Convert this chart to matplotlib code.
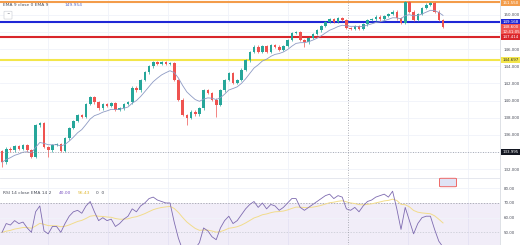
#!/usr/bin/env python3

import numpy as np
import pandas as pd
import matplotlib
matplotlib.use('Agg')
import matplotlib.pyplot as plt
import matplotlib.transforms as mtrans
from matplotlib.patches import FancyBboxPatch

# Candle closes, oldest first.
# Each candle opens at the previous close.
closes = [
    132.8, 134.4, 134.2, 134.7, 134.4, 134.8, 134.2, 133.4, 137.1, 137.4,
    134.6, 134.2, 134.8, 134.9, 134.1, 135.6, 136.8, 137.6, 138.3, 138.1,
    139.6, 140.4, 139.8, 139.1, 139.6, 139.4, 139.7, 138.9, 139.1, 139.6,
    139.8, 141.5, 141.2, 142.4, 143.3, 144.0, 144.5, 144.3, 144.5, 144.3,
    144.4, 142.4, 140.1, 138.3, 138.0, 138.7, 138.4, 139.1, 141.2, 140.9,
    140.1, 139.5, 141.2, 142.4, 143.2, 142.1, 142.4, 143.6, 144.7, 145.7,
    146.3, 145.7, 146.4, 145.7, 146.5, 146.3, 145.9, 146.4, 147.1, 147.9,
    148.0, 147.1, 146.8, 147.3, 147.8, 148.2, 148.7, 149.2, 149.5, 149.2,
    149.6, 149.4, 148.5, 148.4, 148.7, 148.4, 148.9, 149.4, 149.5, 149.8,
    149.5, 149.9, 150.1, 150.4, 149.6, 149.1, 151.5, 150.4, 149.4, 150.1,
    150.8, 151.2, 151.4, 150.4, 149.4, 148.6,
]
first_open = 134.1

# candles with a visibly longer lower wick
long_lows = {0: 132.2, 11: 133.4, 44: 137.2, 51: 138.1, 72: 146.3}

# RSI 14 as it is drawn in the lower pane
rsi_vals = [
    50, 56, 55, 58, 56, 57, 53, 50, 64, 68,
    51, 49, 54, 54, 50, 56, 61, 64, 65, 63,
    68, 71, 64, 58, 60, 58, 59, 54, 56, 59,
    61, 66, 64, 68, 70, 73, 74, 72, 71, 70,
    70, 57, 46, 38, 37, 40, 39, 43, 53, 51,
    47, 45, 53, 58, 61, 56, 58, 62, 66, 69,
    71, 67, 70, 66, 69, 68, 65, 67, 70, 73,
    73, 67, 65, 67, 69, 71, 73, 75, 76, 73,
    75, 74, 66, 65, 67, 64, 68, 71, 72, 74,
    75, 76, 74, 78, 66, 52, 67, 58, 49, 56,
    60, 61, 61, 52, 44, 40,
]

# horizontal levels drawn on the chart
level_orange = 151.55
level_blue = 149.168
level_red = 147.414
level_yellow = 144.697

price_ticks = [132, 134, 136, 138, 140, 142, 144, 146, 148, 150]
rsi_ticks = [50, 60, 70, 80]
countdown = '12:41:05'
crosshair_price = 133.995
crosshair_idx = 82.4
grid_idx = [10.95, 25.2, 39.5, 53.8, 68.1, 96.7, 111.0]

up_col = '#26a69a'
dn_col = '#ef5350'
grid_col = '#f0f3fa'
txt_col = '#4a4e5a'
lab_size = 2.9

n = len(closes)
idx = np.arange(n)
c = np.array(closes)
o = np.array([first_open] + closes[:-1])
hi = np.maximum(o, c) + 0.15
lo = np.minimum(o, c) - 0.15
for k, v in long_lows.items():
    lo[k] = v

ema9 = pd.Series(c).ewm(span=9, adjust=False).mean()
rsi = pd.Series(rsi_vals, dtype=float)
rsi_ma = rsi.ewm(span=14, adjust=False).mean()

fig = plt.figure(figsize=(5.2, 2.45), dpi=100)
right = 500 / 520
split = 67 / 245
ax = fig.add_axes([0, split, right, 1 - split])
ax_r = fig.add_axes([0, 0, right, split], sharex=ax)

xlim = (-0.48, 118.57)

# ---- price pane ----
for y in price_ticks:
    ax.axhline(y, color=grid_col, lw=0.6, zorder=0)
for x in grid_idx:
    ax.axvline(x, color=grid_col, lw=0.6, zorder=0)
    ax_r.axvline(x, color=grid_col, lw=0.6, zorder=0)

cols = np.where(c >= o, up_col, dn_col)
ax.vlines(idx, lo, hi, colors=cols, lw=0.5, zorder=3)
ax.bar(idx, np.maximum(np.abs(c - o), 0.06), bottom=np.minimum(o, c),
       width=0.62, color=cols, zorder=3, linewidth=0)
ax.plot(idx, ema9, color='#8e9bc4', lw=0.6, zorder=4)

ax.axhline(level_orange, color='#f39c4a', lw=1.5, zorder=2)
ax.axhline(level_blue, color='#1f27d6', lw=1.5, zorder=2)
ax.axhline(level_red, color='#d9262b', lw=1.5, zorder=2)
ax.axhline(level_yellow, color='#f3e64a', lw=1.5, zorder=2)

# crosshair
ax.axvline(crosshair_idx, color='#9598a1', lw=0.6, ls=(0, (1, 2)), zorder=5)
ax_r.axvline(crosshair_idx, color='#9598a1', lw=0.6, ls=(0, (1, 2)), zorder=5)
ax.axhline(crosshair_price, color='#9598a1', lw=0.6, ls=(0, (1, 2)), zorder=5)

ax.set_xlim(*xlim)
ax.set_ylim(130.96, 151.75)
ax.yaxis.tick_right()
ax.set_yticks(price_ticks)
ax.set_yticklabels(['{:.3f}'.format(t) for t in price_ticks])
ax.tick_params(axis='y', length=0, pad=2.5, labelsize=lab_size, labelcolor=txt_col)
ax.tick_params(axis='x', length=0, labelbottom=False)
for s in ['top', 'left', 'bottom']:
    ax.spines[s].set_visible(False)
ax.spines['right'].set_color('#d1d4dc')
ax.spines['right'].set_linewidth(0.5)

# price tags on the axis
tr = mtrans.blended_transform_factory(ax.transAxes, ax.transData)

def tag(axis, trans, y, text, bg, fg='white'):
    axis.text(1.005, y, text, transform=trans, fontsize=lab_size, color=fg,
              va='center', ha='left', zorder=10, clip_on=False,
              bbox=dict(boxstyle='square,pad=0.25', fc=bg, ec='none'))

tag(ax, tr, level_orange - 0.1, '{:.3f}'.format(level_orange), '#f39c4a')
tag(ax, tr, level_blue, '{:.3f}'.format(level_blue), '#1f27d6')
tag(ax, tr, c[-1], '{:.3f}'.format(c[-1]), dn_col)
tag(ax, tr, c[-1] - 0.6, countdown, dn_col)
tag(ax, tr, level_red, '{:.3f}'.format(level_red), '#d9262b')
tag(ax, tr, level_yellow, '{:.3f}'.format(level_yellow), '#f3e64a', '#333')
tag(ax, tr, crosshair_price, '{:.3f}'.format(crosshair_price), '#131722')

# legend line
ax.text(0.006, 0.972, 'EMA 9 close 0 EMA 9', transform=ax.transAxes,
        fontsize=3.2, color=txt_col, va='center')
ax.text(0.13, 0.972, '{:.3f}'.format(ema9.iloc[-1]), transform=ax.transAxes,
        fontsize=3.2, color='#5c6bc0', va='center')
ax.add_patch(FancyBboxPatch((0.01, 0.895), 0.012, 0.04,
                            boxstyle='round,pad=0.002', transform=ax.transAxes,
                            fc='white', ec='#c8cbd3', lw=0.4, zorder=6))
ax.text(0.016, 0.915, '^', transform=ax.transAxes, fontsize=3, ha='center',
        va='center', color=txt_col, zorder=7)

# events badge at the bottom of the price pane
fig.patches.append(FancyBboxPatch((441 / 520, 1 - 186 / 245), 14 / 520, 7 / 245,
                                  boxstyle='round,pad=0.003', transform=fig.transFigure,
                                  fc='#dfe3f5', ec='#ef5350', lw=0.6, zorder=8))

# ---- RSI pane ----
ax_r.axhspan(30, 70, color='#7e57c2', alpha=0.1, lw=0, zorder=0)
for y in [60, 80]:
    ax_r.axhline(y, color=grid_col, lw=0.6, zorder=0)
ax_r.axhline(70, color='#9598a1', lw=0.5, ls=(0, (2, 2)), zorder=1)
ax_r.axhline(50, color='#c5c8d1', lw=0.5, ls=(0, (2, 2)), zorder=1)
ax_r.plot(idx, rsi_ma, color='#f2dc8c', lw=0.7, zorder=3)
ax_r.plot(idx, rsi, color='#7e6bb0', lw=0.6, zorder=4)

ax_r.set_xlim(*xlim)
ax_r.set_ylim(41.4, 87)
ax_r.yaxis.tick_right()
ax_r.set_yticks(rsi_ticks)
ax_r.set_yticklabels(['{:.2f}'.format(t) for t in rsi_ticks])
ax_r.tick_params(axis='y', length=0, pad=2.5, labelsize=lab_size, labelcolor=txt_col)
ax_r.tick_params(axis='x', length=0, labelbottom=False)
for s in ['left', 'bottom']:
    ax_r.spines[s].set_visible(False)
ax_r.spines['top'].set_color('#e0e3eb')
ax_r.spines['top'].set_linewidth(0.6)
ax_r.spines['right'].set_color('#d1d4dc')
ax_r.spines['right'].set_linewidth(0.5)

ax_r.text(0.006, 0.78, 'RSI 14 close EMA 14 2', transform=ax_r.transAxes,
          fontsize=3.2, color=txt_col, va='center')
ax_r.text(0.118, 0.78, '{:.2f}'.format(rsi.iloc[-1]), transform=ax_r.transAxes,
          fontsize=3.2, color='#7e57c2', va='center')
ax_r.text(0.155, 0.78, '{:.2f}'.format(rsi_ma.iloc[-1]), transform=ax_r.transAxes,
          fontsize=3.2, color='#e0b830', va='center')
ax_r.text(0.192, 0.78, '0  0', transform=ax_r.transAxes,
          fontsize=3.2, color=txt_col, va='center')

fig.savefig('out.png', dpi=100, facecolor='white')
